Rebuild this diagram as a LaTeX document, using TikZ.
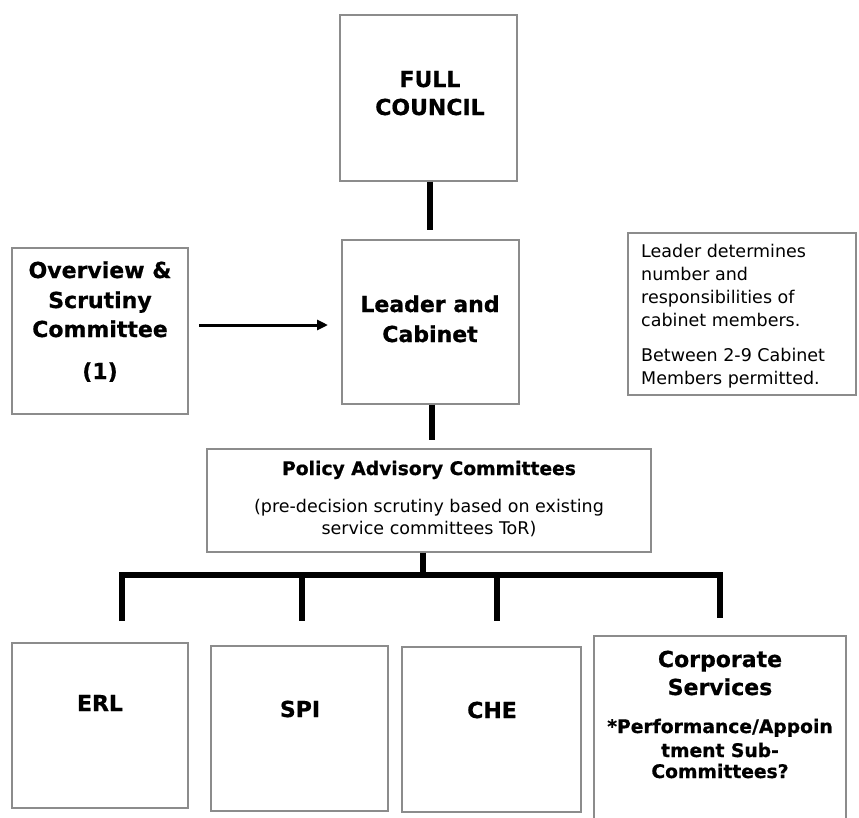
\documentclass[tikz,border=0pt]{standalone}
\usepackage{fontspec}
\setmainfont{DejaVu Sans}[BoldFeatures={FakeBold=0.7}]
\usetikzlibrary{arrows.meta}
\begin{document}
\begin{tikzpicture}[x=1pt,y=-1pt,
  box/.style={draw=black!45, line width=1.1pt, inner sep=0pt, fill=white},
  conn/.style={line width=5.5pt, line join=miter},
  arr/.style={line width=3pt, -{Triangle[length=11pt,width=10pt]}},
  big/.style={font=\fontsize{22}{26}\selectfont\bfseries, anchor=base, inner sep=0pt},
  mid/.style={font=\fontsize{18.7}{22}\selectfont\bfseries, anchor=base, inner sep=0pt},
  txt/.style={font=\fontsize{17.5}{21}\selectfont, anchor=base, inner sep=0pt},
  ltxt/.style={txt, anchor=base west}]
\useasboundingbox (0,0) rectangle (859,817);
\clip (0,0) rectangle (859,817);
\fill[white] (0,0) rectangle (859,817);

% boxes
\node[box, minimum width=177pt, minimum height=166pt] (council) at (428.5,98) {};
\node[box, minimum width=177pt, minimum height=164pt] (leader) at (430.5,322) {};
\node[box, minimum width=176pt, minimum height=166pt] (overview) at (100,331) {};
\node[box, minimum width=228pt, minimum height=162pt] (note) at (742,314) {};
\node[box, minimum width=444pt, minimum height=103pt] (pac) at (429,500.5) {};
\node[box, minimum width=176pt, minimum height=165pt] (erl) at (100,725.5) {};
\node[box, minimum width=177pt, minimum height=165pt] (spi) at (299.5,728.5) {};
\node[box, minimum width=179pt, minimum height=165pt] (che) at (491.5,729.5) {};
\node[box, minimum width=252pt, minimum height=200pt] (corp) at (720,736) {};

% texts
\node[big] (t1a) at (430,87) {FULL};
\node[big] (t1b) at (430,115) {COUNCIL};
\node[big] (t2a) at (430,312) {Leader and};
\node[big] (t2b) at (430,342) {Cabinet};
\node[big] (t3a) at (100,278) {Overview \&};
\node[big] (t3b) at (100,308) {Scrutiny};
\node[big] (t3c) at (100,337) {Committee};
\node[big] (t3d) at (100,379) {(1)};
\node[ltxt] (t4a) at (641,257) {Leader determines};
\node[ltxt] (t4b) at (641,280) {number and};
\node[ltxt] (t4c) at (641,303) {responsibilities of};
\node[ltxt] (t4d) at (641,326) {cabinet members.};
\node[ltxt] (t4e) at (641,361) {Between 2-9 Cabinet};
\node[ltxt] (t4f) at (641,384) {Members permitted.};
\node[mid] (t5a) at (429,475) {Policy Advisory Committees};
\node[txt] (t5b) at (429,512) {(pre-decision scrutiny based on existing};
\node[txt] (t5c) at (429,534) {service committees ToR)};
\node[big] (t6) at (100,711) {ERL};
\node[big] (t7) at (300,717) {SPI};
\node[big] (t8) at (492,718) {CHE};
\node[big] (t9a) at (720,667) {Corporate};
\node[big] (t9b) at (720,695) {Services};
\node[mid] (t9c) at (720,733) {*Performance/Appoin};
\node[mid] (t9d) at (720,757) {tment Sub-};
\node[mid] (t9e) at (720,778) {Committees?};

% connector points
\coordinate (c1) at (430,230);
\coordinate (c2) at (432,440);
\coordinate (c3) at (423,575);
\coordinate (barL) at (122,575);
\coordinate (barR) at (720,575);
\coordinate (dErl) at (122,621);
\coordinate (dSpi) at (302,621);
\coordinate (dSpiT) at (302,575);
\coordinate (dChe) at (497,621);
\coordinate (dCheT) at (497,575);
\coordinate (dCorp) at (720,618);
\coordinate (aS) at (199,325);
\coordinate (aE) at (328,325);

% connectors
\draw[conn] (council.south -| c1) -- (c1);
\draw[conn] (leader.south -| c2) -- (c2);
\draw[conn] (pac.south -| c3) -- (c3);
\draw[conn] (dErl) -- (barL) -- (barR) -- (dCorp);
\draw[conn] (dSpiT) -- (dSpi);
\draw[conn] (dCheT) -- (dChe);
\draw[arr] (aS) -- (aE);
\end{tikzpicture}
\end{document}
